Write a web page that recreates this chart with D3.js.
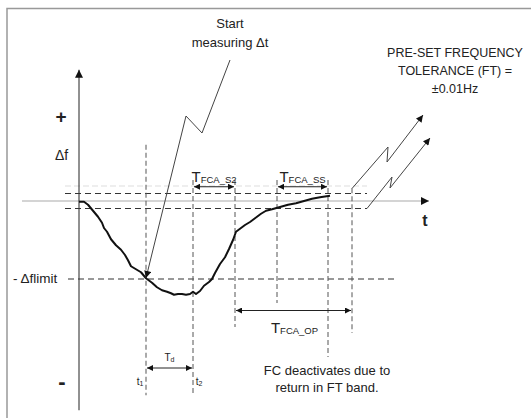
<!DOCTYPE html>
<html>
<head>
<meta charset="utf-8">
<script src="https://cdn.jsdelivr.net/npm/d3@7"></script>
<style>
  body { margin: 0; background: #fff; }
  text { font-family: "Liberation Sans", Arial, sans-serif; fill: #222; }
</style>
</head>
<body>
<div id="chart"></div>
<script>
// frequency deviation after the event (time units, mHz)
var curveTime = [0, 5, 9, 14, 19, 23, 25, 28, 32, 37, 42, 46, 49, 52, 57, 62, 67, 73, 78, 83,
  88, 92, 95, 99, 103, 107, 111, 114, 117, 121, 125, 130, 133, 136, 141, 146, 150, 154, 157,
  161, 166, 171, 176, 182, 187, 193, 201, 209, 217, 225, 233, 241, 251];
var curveDf = [-1, -1, -5, -13, -21, -29, -36, -41, -51, -59, -65, -72, -79, -87, -91, -95, -103,
  -109, -115, -119, -121, -123, -125, -124, -124, -125, -124, -121, -124, -120, -113, -108, -104,
  -96, -84, -75, -64, -52, -41, -37, -32, -28, -23, -17, -13, -11, -8, -5, -3, 0, 3, 5, 7];

var ftBand = [-10, 10];      // +-0.01 Hz
var dfLimit = -104;

// event times
var t1 = 67, t2 = 114, s2End = 156, ssStart = 198, ssEnd = 249, opEnd = 273;

var intervalLabels = ["FCA_S2", "FCA_SS", "FCA_OP"];
var intervalFrom = [t2, ssStart, s2End];
var intervalTo = [s2End, ssEnd, opEnd];

var svgWidth = 531;
var svgHeight = 418;

var svg = d3.select("#chart")
  .append("svg")
  .attr("width", svgWidth)
  .attr("height", svgHeight);

var x = d3.scaleLinear().domain([0, 350]).range([79, 429]);
var y = d3.scaleLinear().domain([-280, 175]).range([411, 69.75]);

// arrow heads
var defs = svg.append("defs");
function marker(id, w, h, color) {
  defs.append("marker")
    .attr("id", id)
    .attr("markerUnits", "userSpaceOnUse")
    .attr("viewBox", "0 0 10 10")
    .attr("refX", 10).attr("refY", 5)
    .attr("markerWidth", w).attr("markerHeight", h)
    .attr("orient", "auto-start-reverse")
    .append("path")
    .attr("d", "M0,0L10,5L0,10z")
    .attr("fill", color);
}
marker("big", 11, 8, "#111");
marker("dim", 8, 6, "#111");
marker("ptr", 9, 7, "#111");

// frame
svg.append("path")
  .attr("d", "M7,418V8.5H531")
  .attr("fill", "none")
  .attr("stroke", "#999")
  .attr("stroke-width", 1.5);

// faint ghost line from the scan
svg.append("line")
  .attr("x1", x(-14)).attr("x2", x(288))
  .attr("y1", y(20)).attr("y2", y(20))
  .attr("stroke", "#ddd").attr("stroke-dasharray", "6,3");

// t axis
svg.append("line")
  .attr("x1", x(-57)).attr("x2", x(350))
  .attr("y1", y(0)).attr("y2", y(0))
  .attr("stroke", "#aaa").attr("stroke-width", 1.2)
  .attr("marker-end", "url(#big)");

// df axis
svg.append("line")
  .attr("x1", x(0)).attr("x2", x(0))
  .attr("y1", y(-279)).attr("y2", y(175))
  .attr("stroke", "#222").attr("stroke-width", 1)
  .attr("marker-end", "url(#big)");

// FT band
svg.selectAll(".band")
  .data(ftBand)
  .enter()
  .append("line")
  .attr("x1", x(-14)).attr("x2", x(288))
  .attr("y1", d => y(d)).attr("y2", d => y(d))
  .attr("stroke", "#333").attr("stroke-width", 1.2)
  .attr("stroke-dasharray", "6,4");

// limit
svg.append("line")
  .attr("x1", x(-11)).attr("x2", x(316))
  .attr("y1", y(dfLimit)).attr("y2", y(dfLimit))
  .attr("stroke", "#333").attr("stroke-width", 1.2)
  .attr("stroke-dasharray", "6,4");

// vertical event markers [time, top df, bottom df]
var verticals = [[t1, 75, -259], [t2, 28, -259], [s2End, 28, -168],
  [ssStart, 28, -136], [ssEnd, 28, -208], [opEnd, 17, -176]];
svg.selectAll(".vline")
  .data(verticals)
  .enter()
  .append("line")
  .attr("x1", d => x(d[0])).attr("x2", d => x(d[0]))
  .attr("y1", d => y(d[1])).attr("y2", d => y(d[2]))
  .attr("stroke", "#555").attr("stroke-width", 1)
  .attr("stroke-dasharray", "5,3");

// the frequency curve
var line = d3.line()
  .x(d => x(d))
  .y((d, i) => y(curveDf[i]));
svg.append("path")
  .attr("d", line(curveTime))
  .attr("fill", "none")
  .attr("stroke", "#111")
  .attr("stroke-width", 2)
  .attr("stroke-linejoin", "round");

// interval arrows
var dimY = [y(19), y(19), y(-146)];
intervalLabels.forEach(function(lab, i) {
  svg.append("line")
    .attr("x1", x(intervalFrom[i]) + 1).attr("x2", x(intervalTo[i]) - 1)
    .attr("y1", dimY[i]).attr("y2", dimY[i])
    .attr("stroke", "#222").attr("stroke-width", 1)
    .attr("marker-start", "url(#dim)")
    .attr("marker-end", "url(#dim)");
  var mid = (x(intervalFrom[i]) + x(intervalTo[i])) / 2;
  var ty = i < 2 ? dimY[i] - 5 : dimY[i] + 22;
  var t = svg.append("text")
    .attr("x", mid + (i == 2 ? 1 : 0)).attr("y", ty)
    .attr("text-anchor", "middle")
    .style("font-size", "15px")
    .text("T");
  t.append("tspan")
    .attr("dy", 1)
    .style("font-size", "9.5px")
    .text(lab);
});

// Td
svg.append("line")
  .attr("x1", x(t1) + 1).attr("x2", x(t2) - 1)
  .attr("y1", 368).attr("y2", 368)
  .attr("stroke", "#222").attr("stroke-width", 1)
  .attr("marker-start", "url(#dim)")
  .attr("marker-end", "url(#dim)");
var td = svg.append("text")
  .attr("x", (x(t1) + x(t2)) / 2).attr("y", 361)
  .attr("text-anchor", "middle")
  .style("font-size", "10px")
  .text("T");
td.append("tspan").attr("dy", 1).style("font-size", "7px").text("d");

[[t1, -6], [t2, 6]].forEach(function(d) {
  var tt = svg.append("text")
    .attr("x", x(d[0]) + d[1]).attr("y", 385)
    .attr("text-anchor", "middle")
    .style("font-size", "10px")
    .text("t");
  tt.append("tspan").attr("dy", 1).style("font-size", "7px").text(d[0] == t1 ? "1" : "2");
});

// "Start measuring" pointer
svg.append("path")
  .attr("d", "M230,60L202,133L186,116L" + x(t1) + "," + (y(dfLimit) - 1))
  .attr("fill", "none")
  .attr("stroke", "#444").attr("stroke-width", 1)
  .attr("marker-end", "url(#ptr)");

// FT band zigzag arrows
svg.append("path")
  .attr("d", "M" + x(opEnd) + "," + (y(ftBand[1]) - 5) + "L388,147L387,162L423,115")
  .attr("fill", "none").attr("stroke", "#444").attr("stroke-width", 1)
  .attr("marker-end", "url(#ptr)");
svg.append("path")
  .attr("d", "M" + x(288) + "," + y(ftBand[0]) + "L392,177L390,188L430,138")
  .attr("fill", "none").attr("stroke", "#444").attr("stroke-width", 1)
  .attr("marker-end", "url(#ptr)");

// texts
function label(tx, ty, str, size, anchor, weight) {
  return svg.append("text")
    .attr("x", tx).attr("y", ty)
    .attr("text-anchor", anchor || "start")
    .style("font-size", size + "px")
    .style("font-weight", weight || "normal")
    .text(str);
}
label(230, 28, "Start", 13, "middle");
label(230, 47, "measuring \u0394t", 13, "middle");
label(455, 57, "PRE-SET FREQUENCY", 12.5, "middle");
label(455, 75, "TOLERANCE (FT) =", 12.5, "middle");
label(455, 93, "\u00b10.01Hz", 12.5, "middle");
label(327, 375, "FC deactivates due to", 13, "middle");
label(327, 392, "return in FT band.", 13, "middle");
label(61, 123, "+", 19, "middle", "bold");
label(62, 389, "-", 22, "middle", "bold");
label(55, 160, "\u0394f", 14);
label(13, 283, "- \u0394flimit", 13.5);
label(425, 226, "t", 16, "middle", "bold");
</script>
</body>
</html>
